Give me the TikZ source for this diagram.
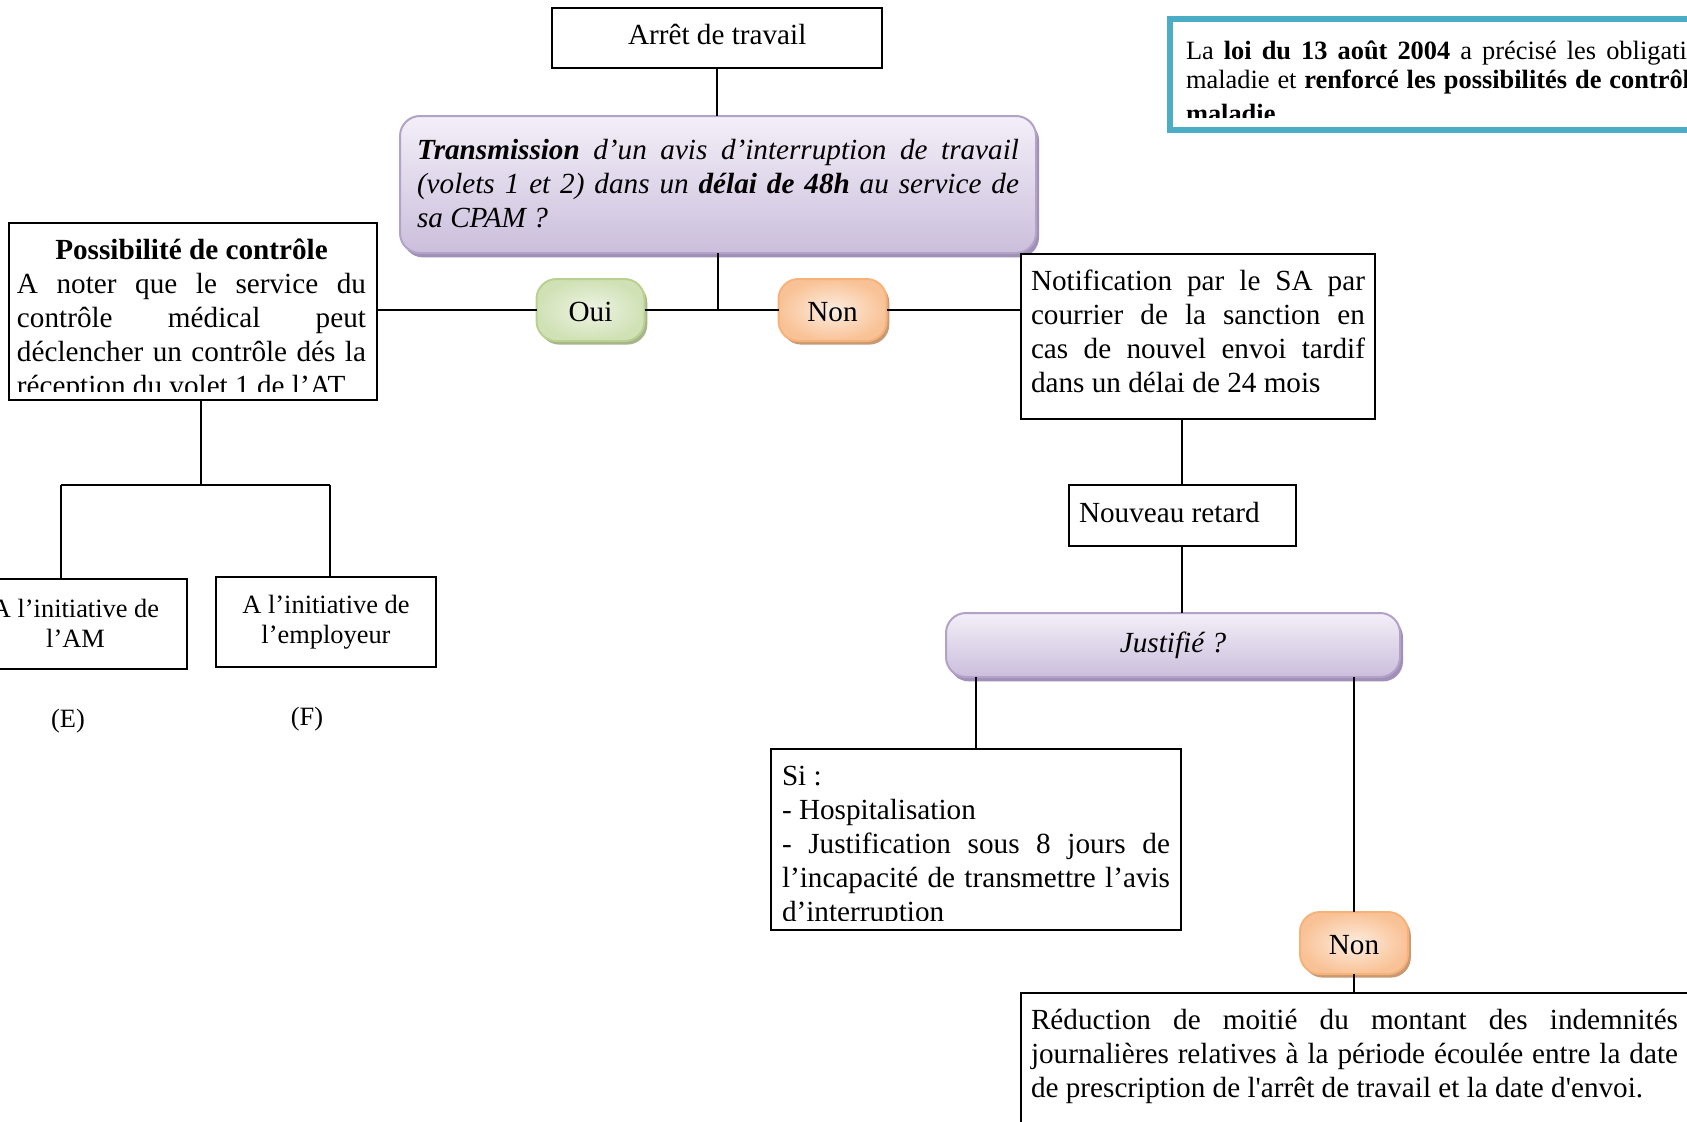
\documentclass[tikz,border=0pt]{standalone}
\usepackage{fontspec}
\setmainfont{Liberation Serif}[Ligatures=TeXOff]
\usetikzlibrary{shadows}

\definecolor{lilacTop}{HTML}{F3EFF8}
\definecolor{lilacBot}{HTML}{CBBEDC}
\definecolor{lilacLine}{HTML}{B3A2C7}
\definecolor{lilacShadow}{HTML}{A090B8}
\definecolor{greenIn}{HTML}{EEF4E4}
\definecolor{greenOut}{HTML}{D0E1B5}
\definecolor{greenLine}{HTML}{B9D08F}
\definecolor{greenShadow}{HTML}{A5B68B}
\definecolor{peachIn}{HTML}{FDEDE0}
\definecolor{peachOut}{HTML}{F9C296}
\definecolor{peachLine}{HTML}{F7B27A}
\definecolor{peachShadow}{HTML}{C89A74}
\definecolor{lawBlue}{HTML}{4BACC6}

% font sizes: body text and the smaller labels
\newcommand\mainsize{\fontsize{14.6pt}{17pt}\selectfont}
\newcommand\smallsize{\fontsize{13.2pt}{15pt}\selectfont}
% one justified line, stretched to the block width
\newcommand\jl[1]{\makebox[\linewidth][s]{#1}}
% a block of text whose reference point is the first baseline
\newcommand\textblock[2]{\parbox[t]{#1}{\mainsize\setlength\parindent{0pt}#2}}

\begin{document}
\begin{tikzpicture}[x=0.5pt,y=-0.5pt,
  every node/.style={inner sep=0pt, outer sep=0pt},
  plainbox/.style={draw=black, line width=1pt, fill=white},
  link/.style={draw=black, line width=1pt},
  txt/.style={anchor=base west, inner sep=0pt},
  lilacbox/.style={draw=lilacLine, line width=1pt, rounded corners=10pt,
    top color=lilacTop, bottom color=lilacBot,
    drop shadow={shadow xshift=1.5pt, shadow yshift=-2.2pt, fill=lilacShadow, opacity=1}},
  pill/.style={line width=1pt, rounded corners=10pt, minimum width=54pt,
    minimum height=31pt, font=\mainsize, text height=11.5pt, text depth=0pt},
  yespill/.style={pill, draw=greenLine, inner color=greenIn, outer color=greenOut,
    drop shadow={shadow xshift=1.4pt, shadow yshift=-1.8pt, fill=greenShadow, opacity=1}},
  nopill/.style={pill, draw=peachLine, inner color=peachIn, outer color=peachOut,
    drop shadow={shadow xshift=1.4pt, shadow yshift=-1.8pt, fill=peachShadow, opacity=1}},
]
\useasboundingbox (0,0) rectangle (1687,1121);
\clip (0,0) rectangle (1687,1121);

% ---- top of the chart
\node[plainbox, minimum width=165pt, minimum height=30pt] (arret) at (717,38) {};
\node[txt, font=\mainsize] (arrettext) at (628,44) {Arrêt de travail};
\node[lilacbox, minimum width=318pt, minimum height=68.5pt] (trans) at (718,184.5) {};
\node[txt] (transtext) at (417,159) {\textblock{301pt}{\itshape
  \jl{\textbf{Transmission} d’un avis d’interruption de travail}\\
  \jl{(volets 1 et 2) dans un \textbf{délai de 48h} au service de}\\
  sa CPAM ?}};

% ---- law reminder, top right
\node[draw=lawBlue, line width=3pt, fill=white, minimum width=295pt, minimum height=55.5pt] (law) at (1465,74.5) {};
\begin{scope}
  \clip (1173,22) rectangle (1687,117);
  \node[txt] (lawone) at (1186,59) {\smallsize\spaceskip=0.38em La \textbf{loi du 13 août 2004} a précisé les obligations};
  \node[txt] (lawtwo) at (1186,88) {\smallsize\spaceskip=0.3em maladie et \textbf{renforcé les possibilités de contrôle}};
  \node[txt] (lawthree) at (1186,122) {\smallsize\textbf{maladie}};
\end{scope}

% ---- first decision
\coordinate (fork) at (718,310);
\node[yespill] (oui) at (590.5,310) {Oui};
\node[nopill] (non) at (832.5,310) {Non};

% ---- left branch
\node[plainbox, minimum width=184pt, minimum height=88.5pt] (poss) at (193,311.5) {};
\begin{scope}
  \clip (9,223) rectangle (377,391);
  \node[txt] (posstext) at (17,259) {\textblock{174.5pt}{%
    \makebox[\linewidth][c]{\bfseries Possibilité de contrôle}\\
    \jl{A noter que le service du}\\
    \jl{contrôle médical peut}\\
    \jl{déclencher un contrôle dés la}\\
    réception du volet 1 de l’AT}};
\end{scope}

\node[plainbox, minimum width=111.5pt, minimum height=45pt, align=center, font=\smallsize] (am) at (75.5,623.5) {A l’initiative de\\l’AM};
\node[plainbox, minimum width=110pt, minimum height=45pt, align=center, font=\smallsize] (empl) at (326,622) {A l’initiative de\\l’employeur};
\node[font=\smallsize] (labE) at (68,721) {(E)};
\node[font=\smallsize] (labF) at (307,719) {(F)};

\coordinate (split) at (201,485);
\coordinate (amhook) at (61,485);
\coordinate (emhook) at (330,485);

% ---- right branch
\node[plainbox, minimum width=177pt, minimum height=82.5pt] (notif) at (1198,336.5) {};
\node[txt] (notiftext) at (1031,290) {\textblock{167pt}{%
  \jl{Notification par le SA par}\\
  \jl{courrier de la sanction en}\\
  \jl{cas de nouvel envoi tardif}\\
  dans un délai de 24 mois}};

\node[plainbox, minimum width=113.5pt, minimum height=30.5pt] (nr) at (1182,515) {};
\node[txt, font=\mainsize] (nrtext) at (1079,522) {Nouveau retard};

\node[lilacbox, minimum width=227pt, minimum height=32pt, font=\mainsize\itshape] (just) at (1173,645) {Justifié ?};

\node[plainbox, minimum width=205pt, minimum height=90.5pt] (si) at (976,839.5) {};
\begin{scope}
  \clip (771,749) rectangle (1181,920);
  \node[txt] (sitext) at (782,785) {\textblock{194pt}{%
    Si :\\
    - Hospitalisation\\
    \jl{- Justification sous 8 jours de}\\
    \jl{l’incapacité de transmettre l’avis}\\
    d’interruption}};
\end{scope}

\node[nopill] (nontwo) at (1354,943) {Non};

\node[plainbox, minimum width=370pt, minimum height=93.5pt] (red) at (1391,1086.5) {};
\node[txt] (redtext) at (1031,1029) {\textblock{323.5pt}{%
  \jl{Réduction de moitié du montant des indemnités}\\
  \jl{journalières relatives à la période écoulée entre la date}\\
  de prescription de l'arrêt de travail et la date d'envoi.}};

% ---- connectors
\draw[link] (arret.south) -- (arret.south |- trans.north);
\draw[link] (trans.south) -- (fork);
\draw[link] (poss.east |- fork) -- (oui.west);
\draw[link] (oui.east) -- (non.west);
\draw[link] (non.east) -- (notif.west |- fork);

\draw[link] (poss.south -| split) -- (split);
\draw[link] (amhook) -- (emhook);
\draw[link] (amhook) -- (amhook |- am.north);
\draw[link] (emhook) -- (emhook |- empl.north);

\draw[link] (nr.north |- notif.south) -- (nr.north);
\draw[link] (nr.south) -- (nr.south |- just.north);
\draw[link] (si.north |- just.south) -- (si.north);
\draw[link] (nontwo.north |- just.south) -- (nontwo.north);
\draw[link] (nontwo.south) -- (nontwo.south |- red.north);
\end{tikzpicture}
\end{document}
